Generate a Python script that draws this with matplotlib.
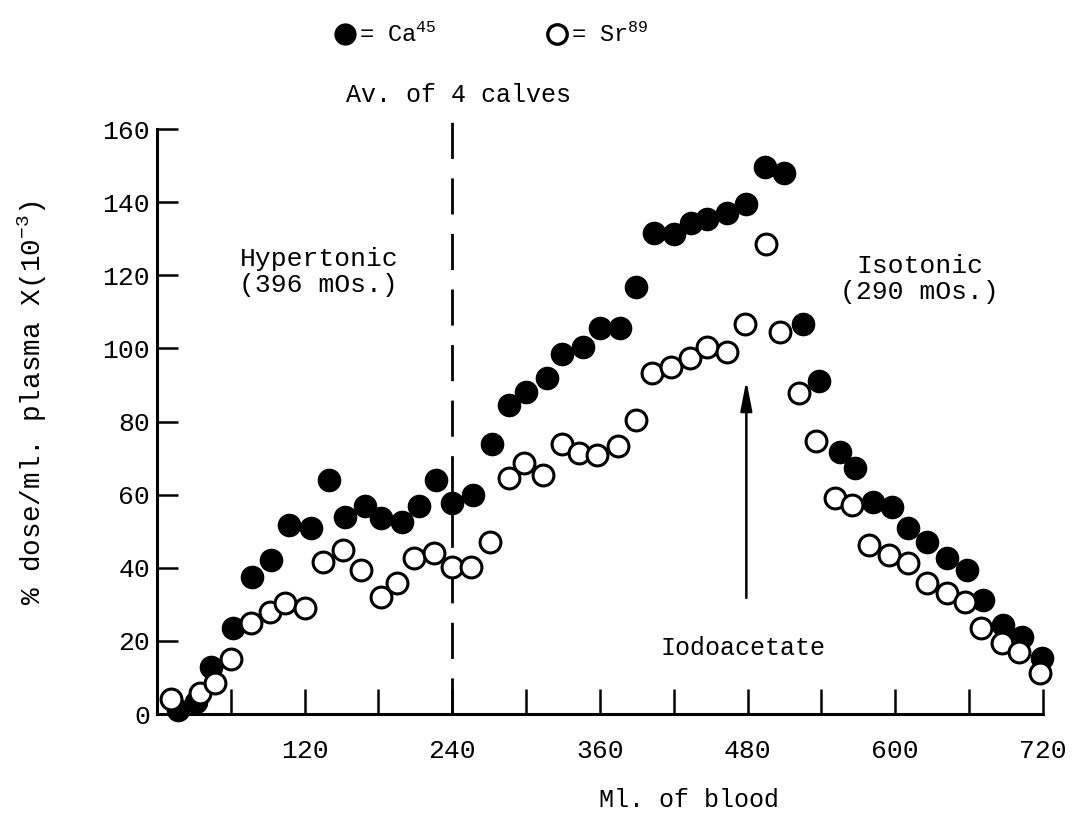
import numpy as np
import matplotlib
matplotlib.use('Agg')
import matplotlib.pyplot as plt
from matplotlib.lines import Line2D

# plasma levels of the two isotopes against ml of blood perfused
ca_ml = [17, 32, 44, 62, 77, 93, 107, 125, 140, 153, 169, 182, 199, 213, 227, 240,
         257, 272, 286, 300, 317, 329, 346, 360, 376, 389, 404, 420, 434, 447, 463,
         479, 494, 510, 525, 538, 555, 567, 582, 597, 610, 626, 642, 658, 671, 688,
         703, 719]
ca_dose = [1, 3.3, 12.8, 23.5, 37.4, 42, 51.6, 51, 64, 54, 57, 53.5, 52.5, 57, 64, 57.6,
           59.8, 74, 84.4, 88, 91.8, 98.6, 100.5, 105.7, 105.7, 116.7, 131.5, 131.4,
           134.4, 135.5, 137, 139.6, 149.5, 148, 106.8, 91, 71.6, 67.2, 57.9, 56.6, 51,
           47, 42.6, 39.3, 31.1, 24.3, 21, 15.3]

sr_ml = [11, 35, 47, 60, 76, 92, 104, 120, 135, 151, 166, 182, 195, 209, 225, 240,
         255, 271, 286, 298, 314, 329, 343, 358, 375, 389, 402, 418, 433, 447, 463,
         478, 495, 506, 522, 536, 551, 565, 579, 595, 610, 626, 642, 657, 670, 687,
         701, 718]
sr_dose = [4, 5.7, 8.5, 15, 24.9, 27.9, 30.3, 29, 41.5, 44.8, 39.3, 32, 35.8, 42.6, 44,
           40.2, 40.2, 47, 64.5, 68.6, 65.3, 74, 71.3, 70.8, 73.2, 80.3, 93.2, 94.8,
           97.5, 100.3, 98.9, 106.6, 128.7, 104.4, 87.7, 74.6, 59, 57.1, 46.2, 43.4,
           41.2, 35.8, 33, 30.6, 23.5, 19.4, 16.9, 11.2]

x_ticks = np.arange(60, 721, 60)
x_labels = ['' if t % 120 else str(t) for t in x_ticks]
y_ticks = np.arange(0, 161, 20)

plt.rcParams['font.family'] = 'Liberation Mono'
plt.rcParams['mathtext.fontset'] = 'custom'
plt.rcParams['mathtext.rm'] = 'Liberation Mono'
plt.rcParams['mathtext.it'] = 'Liberation Mono'
plt.rcParams['mathtext.bf'] = 'Liberation Mono'

fig = plt.figure(figsize=(10.79, 8.25), dpi=100)
ax = fig.add_axes([0.1455, 0.1345, 0.821, 0.709])

ax.plot(ca_ml, ca_dose, 'o', color='k', markersize=16, clip_on=False, zorder=3)
ax.plot(sr_ml, sr_dose, 'o', markerfacecolor='white', markeredgecolor='k',
        markeredgewidth=2.2, markersize=15, clip_on=False, zorder=4)

# dashed divider between the two perfusion media
ax.plot([240, 240], [0, 163], color='k', lw=2, dashes=(13, 7), clip_on=False)

ax.set_xlim(0, 720)
ax.set_ylim(0, 160)
ax.set_xticks(x_ticks)
ax.set_xticklabels(x_labels)
ax.set_yticks(y_ticks)
ax.tick_params(axis='x', direction='in', length=18, width=1.8, labelsize=19, pad=18)
ax.tick_params(axis='y', direction='in', length=15, width=1.8, labelsize=19, pad=5)
for s in ['top', 'right']:
    ax.spines[s].set_visible(False)
for s in ['left', 'bottom']:
    ax.spines[s].set_linewidth(2.2)

ax.set_xlabel('Ml. of blood', fontsize=18)
ax.xaxis.set_label_coords(0.60, -0.126)
ax.set_ylabel('% dose/ml. plasma X(10$^{-3}$)', fontsize=20)
ax.yaxis.set_label_coords(-0.122, 0.533)

ax.text(245, 166, 'Av. of 4 calves', fontsize=18, ha='center', va='bottom')
ax.text(67, 121, 'Hypertonic\n(396 mOs.)', fontsize=19, ha='left', va='center',
        linespacing=1.1)
ax.text(620, 119, 'Isotonic\n(290 mOs.)', fontsize=19, ha='center', va='center',
        linespacing=1.1)
ax.text(476, 18, 'Iodoacetate', fontsize=18, ha='center', va='center')
ax.annotate('', xy=(479, 92), xytext=(479, 31),
            arrowprops=dict(arrowstyle='-|>,head_length=1.8,head_width=0.35',
                            color='k', lw=1.8))

handles = [Line2D([], [], marker='o', ls='', color='k', markersize=15),
           Line2D([], [], marker='o', ls='', markerfacecolor='white',
                  markeredgecolor='k', markeredgewidth=2.4, markersize=14)]
fig.legend(handles, ['= Ca$^{45}$', '= Sr$^{89}$'], loc='center',
           bbox_to_anchor=(0.454, 0.958), ncol=2, frameon=False, fontsize=17,
           handletextpad=0.0, columnspacing=4.5, handlelength=1.2)

fig.savefig('out.png', dpi=100)
